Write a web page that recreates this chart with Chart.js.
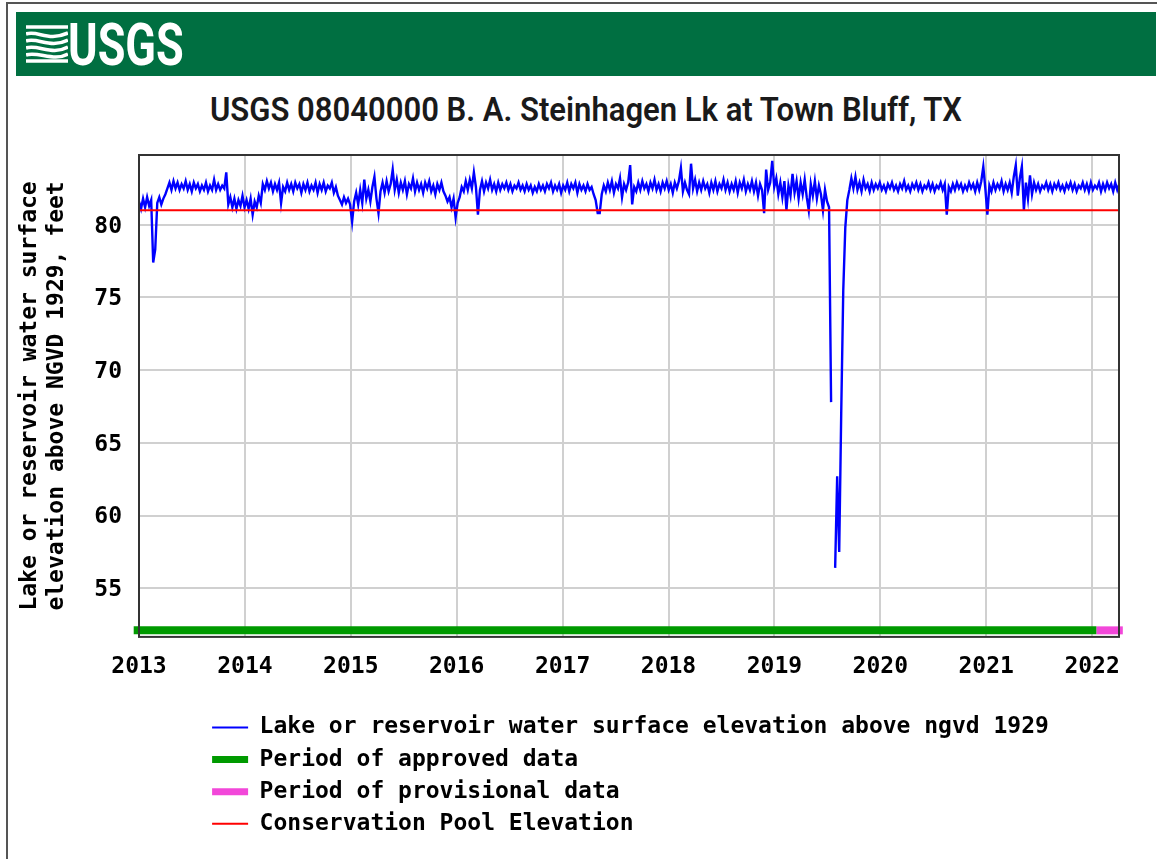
<!DOCTYPE html>
<html>
<head>
<meta charset="utf-8">
<title>USGS 08040000</title>
<script src="https://cdn.jsdelivr.net/npm/chart.js@4.4.1/dist/chart.umd.min.js"></script>
<style>
  html, body { margin: 0; padding: 0; background: #fff; overflow: hidden; }
  body { width: 1157px; height: 859px; position: relative; }
  #frame { position: absolute; left: 6px; top: 2px; width: 1200px; height: 900px; border: 2px solid #555; box-sizing: border-box; }
  #banner { position: absolute; left: 16px; top: 12px; width: 1140px; height: 64px; background: #006f41; }
  #logo-icon { position: absolute; left: 10px; top: 11px; }
  #logo-text { position: absolute; left: 52px; top: 2.5px; font: 700 60px Roboto, sans-serif; line-height: 60px; color: #fff; transform: scaleX(0.75); transform-origin: 0 0; }
  #title { position: absolute; left: 16px; top: 90.4px; width: 1140px; text-align: center; line-height: 40px; }
  #title span { display: inline-block; font: 600 33px Roboto, sans-serif; color: #1a1a1a; white-space: nowrap; transform-origin: 50% 50%; }
  #chart { position: absolute; left: 0; top: 0; }
</style>
</head>
<body>
<div id="frame"></div>
<div id="banner">
  <svg id="logo-icon" width="42" height="41" viewBox="0 0 42 41">
    <g fill="none" stroke="#fff" stroke-width="3.6">
      <path d="M0 4 L42 4"/>
      <path d="M0 11 C12 7 22 19 42 10"/>
      <path d="M0 18 C12 14 24 26 42 17"/>
      <path d="M0 25 C12 21 26 33 42 24"/>
      <path d="M0 32 C12 28 28 39 42 31"/>
      <path d="M0 38 L42 38"/>
    </g>
  </svg>
  <div id="logo-text">USGS</div>
</div>
<div id="title"><span>USGS 08040000 B. A. Steinhagen Lk at Town Bluff, TX</span></div>
<canvas id="chart" width="1157" height="859"></canvas>
<script>
// weekly lake elevation, feet above NGVD 1929, starting 2013-01-01
const startYear = 2013;
const stepDays = 7;
const elevation = [
  81.6, 81.1, 81.8, 81.2, 81.9, 81.3, 81.7, 77.4, 78.3, 81.5,
  81.9, 81.4, 81.8, 82.1, 82.5, 82.9, 82.4, 83.0, 82.5, 82.9,
  82.4, 82.8, 82.5, 83.0, 82.4, 82.8, 82.3, 82.9, 82.5, 82.8,
  82.3, 82.7, 82.4, 82.9, 82.3, 82.7, 82.4, 83.1, 82.4, 82.8,
  82.4, 82.7, 82.5, 83.6, 81.4, 81.9, 81.2, 81.8, 81.1, 81.7,
  81.3, 82.0, 81.2, 81.7, 81.1, 81.8, 80.7, 81.6, 81.2, 82.0,
  81.5, 82.8, 82.4, 83.0, 82.5, 82.9, 82.3, 82.8, 82.4, 82.9,
  81.5, 82.6, 82.3, 82.9, 82.4, 82.8, 82.3, 82.9, 82.5, 82.8,
  82.2, 82.8, 82.4, 82.9, 82.3, 82.7, 82.4, 82.9, 82.2, 82.8,
  82.4, 82.9, 82.3, 82.7, 82.5, 82.9, 82.2, 82.6, 82.0, 81.7,
  81.4, 81.9, 81.5, 81.8, 81.4, 80.2, 81.6, 82.2, 81.4, 82.4,
  81.5, 83.1, 81.8, 82.4, 81.6, 82.6, 83.3, 81.8, 80.8, 82.3,
  82.9, 82.2, 83.0, 82.3, 82.8, 83.8, 82.4, 83.1, 82.2, 82.9,
  82.4, 83.0, 82.1, 82.8, 82.5, 83.2, 82.3, 82.9, 82.4, 82.8,
  82.2, 82.9, 82.5, 83.0, 82.3, 82.7, 82.1, 82.8, 82.4, 82.9,
  82.3, 82.0, 81.6, 81.9, 81.2, 81.8, 80.5, 81.5, 81.9, 82.6,
  82.3, 83.0, 82.4, 83.1, 82.5, 83.6, 82.6, 80.7, 82.4, 83.0,
  82.3, 82.9, 82.5, 83.1, 82.4, 82.8, 82.3, 82.9, 82.4, 82.8,
  82.5, 82.9, 82.4, 82.8, 82.3, 82.7, 82.5, 82.9, 82.4, 82.7,
  82.3, 82.8, 82.4, 82.7, 82.2, 82.6, 82.3, 82.8, 82.4, 82.7,
  82.3, 82.8, 82.5, 82.9, 82.3, 82.7, 82.4, 82.8, 82.2, 82.7,
  82.4, 82.9, 82.3, 82.8, 82.5, 82.9, 82.2, 82.8, 82.4, 82.7,
  82.3, 82.8, 82.4, 82.6, 82.1, 81.7, 80.8, 80.8, 82.1, 82.7,
  82.3, 82.9, 82.4, 83.0, 82.2, 82.8, 82.5, 83.2, 81.9, 82.8,
  82.4, 82.9, 84.1, 81.4, 82.6, 82.3, 82.9, 82.4, 83.0, 82.5,
  82.8, 82.3, 82.9, 82.5, 83.1, 82.4, 82.8, 82.3, 82.9, 82.5,
  83.0, 82.4, 82.8, 82.2, 82.9, 82.5, 83.0, 83.9, 82.3, 82.9,
  82.4, 82.1, 84.2, 82.5, 83.1, 82.3, 82.9, 82.4, 83.0, 82.5,
  82.8, 82.2, 82.9, 82.4, 83.0, 82.3, 82.8, 82.5, 83.1, 82.4,
  82.9, 82.3, 82.8, 82.4, 83.0, 82.2, 82.9, 82.5, 83.1, 82.3,
  82.8, 82.4, 83.0, 82.3, 82.9, 82.0, 82.8, 82.4, 80.8, 83.8,
  82.4, 82.9, 84.4, 82.6, 83.2, 82.1, 82.9, 81.9, 83.0, 81.0,
  82.7, 82.0, 83.5, 82.2, 83.0, 81.8, 82.9, 82.1, 83.1, 81.9,
  81.0, 82.8, 82.0, 83.0, 81.8, 82.7, 82.1, 81.0, 82.4, 81.6,
  81.2, 67.8, null, 56.4, 62.7, 57.5, 67.1, 75.5, 79.8, 81.7,
  82.4, 83.2, 82.5, 83.3, 82.4, 82.9, 82.3, 83.1, 82.5, 82.8,
  82.3, 82.9, 82.4, 82.8, 82.5, 82.9, 82.4, 82.7, 82.3, 82.8,
  82.5, 82.9, 82.4, 82.7, 82.3, 82.8, 82.5, 83.0, 82.4, 82.7,
  82.3, 82.8, 82.5, 82.9, 82.4, 82.8, 82.3, 82.7, 82.5, 82.9,
  82.4, 82.8, 82.3, 82.7, 82.5, 82.9, 82.4, 82.8, 80.7, 82.6,
  82.3, 82.8, 82.4, 82.9, 82.5, 82.8, 82.3, 82.7, 82.4, 82.9,
  82.5, 82.8, 82.3, 82.9, 82.4, 83.0, 84.0, 82.5, 80.7, 82.7,
  82.3, 82.9, 82.4, 82.8, 82.5, 83.0, 82.3, 82.8, 82.4, 82.9,
  82.2, 83.3, 84.1, 82.0, 83.2, 84.0, 81.0, 82.9, 81.8, 83.4,
  82.1, 82.9, 82.4, 82.8, 82.3, 82.7, 82.5, 82.9, 82.4, 82.8,
  82.3, 82.8, 82.5, 82.9, 82.4, 82.7, 82.3, 82.8, 82.5, 82.9,
  82.4, 82.8, 82.3, 82.7, 82.5, 82.9, 82.4, 82.8, 82.3, 82.9,
  82.4, 82.7, 82.5, 82.9, 82.3, 82.8, 82.4, 82.9, 82.5, 82.8,
  82.3, 82.9, 82.4, 82.8
];

const poolElevation = 81.0;
const approvedPeriod = [2012.95, 2022.04];
const provisionalPeriod = [2022.04, 2022.29];
const periodBarLevel = 52.1;

const yearTicks = [2013, 2014, 2015, 2016, 2017, 2018, 2019, 2020, 2021, 2022];
const elevationTicks = [55, 60, 65, 70, 75, 80];
const xMin = 2013, xMax = 2022.254;
const yMin = 51.65, yMax = 84.8;

const seriesLabels = [
  "Lake or reservoir water surface elevation above ngvd 1929",
  "Period of approved data",
  "Period of provisional data",
  "Conservation Pool Elevation",
];

const monoFont = { family: "'DejaVu Sans Mono', monospace", size: 23, weight: "bold" };

// squeeze the page title to the width it has in the original
const titleSpan = document.querySelector("#title span");
titleSpan.style.transform = "scaleX(" + (752 / titleSpan.getBoundingClientRect().width) + ")";

// draw the box around the plot after the data
const plotFrame = {
  id: "plotFrame",
  afterDatasetsDraw(chart) {
    const { ctx, chartArea: a } = chart;
    ctx.save();
    ctx.strokeStyle = "#333";
    ctx.lineWidth = 2;
    ctx.strokeRect(a.left, a.top, a.right - a.left, a.bottom - a.top);
    ctx.restore();
  },
};

// legend sits left-aligned under the plot, not at the page edge
const legendShift = {
  id: "legendShift",
  afterLayout(chart) {
    chart.legend.left = 203;
  },
};

const lakePoints = elevation.map((v, i) => ({ x: startYear + (i * stepDays) / 365.25, y: v }));

new Chart(document.getElementById("chart"), {
  type: "line",
  data: {
    datasets: [
      {
        label: seriesLabels[0],
        data: lakePoints,
        borderColor: "#0000ff",
        borderWidth: 2.4,
        pointRadius: 0,
        pointBorderWidth: 2,
        pointBorderColor: "#0000ff",
        spanGaps: false,
        order: 1,
      },
      {
        label: seriesLabels[1],
        data: approvedPeriod.map((x) => ({ x, y: periodBarLevel })),
        borderColor: "#009a00",
        borderWidth: 8,
        pointRadius: 0,
        pointBorderWidth: 7,
        pointBorderColor: "#009a00",
        clip: false,
        order: 1,
      },
      {
        label: seriesLabels[2],
        data: provisionalPeriod.map((x) => ({ x, y: periodBarLevel })),
        borderColor: "#f247d9",
        borderWidth: 8,
        pointRadius: 0,
        pointBorderWidth: 7,
        pointBorderColor: "#f247d9",
        clip: false,
        order: 1,
      },
      {
        label: seriesLabels[3],
        data: [{ x: xMin, y: poolElevation }, { x: xMax, y: poolElevation }],
        borderColor: "#ff0000",
        borderWidth: 2,
        pointRadius: 0,
        pointBorderWidth: 2,
        pointBorderColor: "#ff0000",
        order: 0,
      },
    ],
  },
  options: {
    responsive: false,
    animation: false,
    events: [],
    layout: { padding: { left: 16, right: 0, top: 155, bottom: 13.7 } },
    scales: {
      x: {
        type: "linear",
        min: xMin,
        max: xMax,
        afterBuildTicks: (s) => { s.ticks = yearTicks.map((v) => ({ value: v })); },
        afterFit: (s) => { s.height = 70; },
        ticks: {
          font: monoFont,
          color: "#000",
          padding: 16,
          maxRotation: 0,
          autoSkip: false,
          callback: (v) => String(v),
        },
        grid: { color: "#d0d0d0", lineWidth: 2, drawTicks: false },
        border: { display: false },
      },
      y: {
        min: yMin,
        max: yMax,
        afterBuildTicks: (s) => { s.ticks = elevationTicks.map((v) => ({ value: v })); },
        afterFit: (s) => { s.width = 123; },
        ticks: { font: monoFont, color: "#000", padding: 17, labelOffset: 2 },
        grid: { color: "#d0d0d0", lineWidth: 2, drawTicks: false },
        border: { display: false },
        title: {
          display: true,
          text: ["Lake or reservoir water surface", "elevation above NGVD 1929, feet"],
          font: { ...monoFont, lineHeight: 1.2 },
          color: "#000",
          padding: { top: 0, bottom: 0 },
        },
      },
      spacer: {
        position: "right",
        display: true,
        ticks: { display: false },
        grid: { display: false },
        border: { display: false },
        afterFit: (s) => { s.width = 38; },
      },
    },
    plugins: {
      title: { display: false },
      legend: {
        position: "bottom",
        align: "start",
        labels: {
          usePointStyle: true,
          pointStyle: "line",
          pointStyleWidth: 36,
          font: monoFont,
          color: "#000",
          padding: 9.1,
          sort: (a, b) => a.datasetIndex - b.datasetIndex,
          generateLabels: (chart) =>
            Chart.defaults.plugins.legend.labels
              .generateLabels(chart)
              .map((item) => ({ ...item, text: item.text.padEnd(57) })),
        },
      },
      tooltip: { enabled: false },
    },
  },
  plugins: [plotFrame, legendShift],
});
</script>
</body>
</html>
